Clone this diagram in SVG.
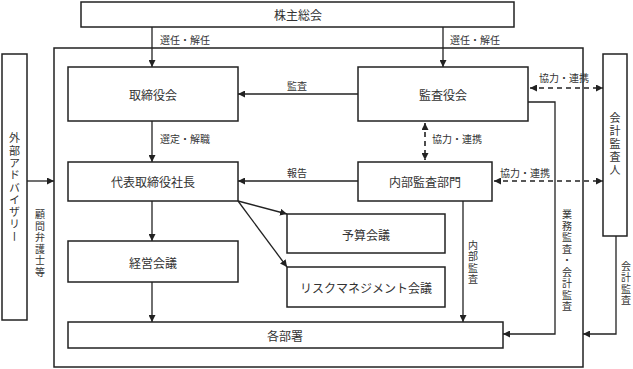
<svg xmlns="http://www.w3.org/2000/svg" width="633" height="369" viewBox="0 0 633 369">
<style>
.box{fill:#fff;stroke:#222;stroke-width:1.5}
.ln{fill:none;stroke:#222;stroke-width:1.3}
.dash{fill:none;stroke:#222;stroke-width:1.6;stroke-dasharray:5 4}
.t{font-family:"Noto Sans CJK JP","Noto Sans CJK SC",sans-serif;font-size:12px;fill:#333;text-anchor:middle;dominant-baseline:central}
.s{font-family:"Noto Sans CJK JP","Noto Sans CJK SC",sans-serif;font-size:10px;fill:#333}
.v{font-family:"Noto Sans CJK JP","Noto Sans CJK SC",sans-serif;font-size:10px;fill:#333;writing-mode:vertical-rl;text-anchor:middle;letter-spacing:1.5px}
</style>
<defs>
<marker id="ah" viewBox="0 0 10 10" refX="10" refY="5" markerWidth="7" markerHeight="7" markerUnits="userSpaceOnUse" orient="auto-start-reverse">
<path d="M0,0 L10,5 L0,10 z" fill="#222"/>
</marker>
</defs>
<rect x="0" y="0" width="633" height="369" fill="#fff"/>
<g id="outer"><rect class="box" x="54" y="48" width="529" height="319"/></g>
<g id="kabunushi"><rect class="box" x="81" y="2" width="433" height="25"/><text class="t" x="298" y="14">株主総会</text></g>
<g id="torishimariyakukai"><rect class="box" x="68" y="67" width="170" height="54"/><text class="t" x="153" y="94">取締役会</text></g>
<g id="kansayakukai"><rect class="box" x="358" y="67" width="170" height="54"/><text class="t" x="443" y="94">監査役会</text></g>
<g id="shacho"><rect class="box" x="68" y="162" width="170" height="39"/><text class="t" x="153" y="181">代表取締役社長</text></g>
<g id="naibukansa"><rect class="box" x="358" y="162" width="134" height="39"/><text class="t" x="425" y="181">内部監査部門</text></g>
<g id="yosan"><rect class="box" x="287" y="214" width="158" height="39"/><text class="t" x="366" y="234">予算会議</text></g>
<g id="risk"><rect class="box" x="287" y="267" width="158" height="40"/><text class="t" x="366" y="287">リスクマネジメント会議</text></g>
<g id="keiei"><rect class="box" x="68" y="241" width="170" height="41"/><text class="t" x="153" y="262">経営会議</text></g>
<g id="kakubusho"><rect class="box" x="68" y="322" width="435" height="26"/><text class="t" x="285" y="335">各部署</text></g>
<g id="gaibu"><rect class="box" x="2" y="54" width="25" height="266"/><text class="v" x="14.5" y="188" style="font-size:11px;letter-spacing:1.3px">外部アドバイザリー</text></g>
<g id="kaikeikansanin"><rect class="box" x="603" y="54" width="24" height="182"/><text class="v" x="615" y="145" style="font-size:11px;letter-spacing:2px">会計監査人</text></g>
<g id="connectors">
<path class="ln" d="M152,27 V67" marker-end="url(#ah)"/>
<path class="ln" d="M443,27 V67" marker-end="url(#ah)"/>
<path class="ln" d="M358,94 H238" marker-end="url(#ah)"/>
<path class="ln" d="M152,121 V162" marker-end="url(#ah)"/>
<path class="ln" d="M358,181 H238" marker-end="url(#ah)"/>
<path class="dash" d="M425,123 V160" marker-start="url(#ah)" marker-end="url(#ah)"/>
<path class="dash" d="M530,88 H603" marker-start="url(#ah)" marker-end="url(#ah)"/>
<path class="dash" d="M494,181 H603" marker-start="url(#ah)" marker-end="url(#ah)"/>
<path class="ln" d="M27,181 H54" marker-end="url(#ah)"/>
<path class="ln" d="M238,201 L287,214" marker-end="url(#ah)"/>
<path class="ln" d="M238,201 L287,267" marker-end="url(#ah)"/>
<path class="ln" d="M152,201 V241" marker-end="url(#ah)"/>
<path class="ln" d="M152,282 V322" marker-end="url(#ah)"/>
<path class="ln" d="M463,201 V322" marker-end="url(#ah)"/>
<path class="ln" d="M528,102 H555 V334 H503" marker-end="url(#ah)"/>
<path class="ln" d="M616,236 V334 H583" marker-end="url(#ah)"/>
<text class="s" x="160" y="44">選任・解任</text>
<text class="s" x="450" y="44">選任・解任</text>
<text class="s" x="287" y="90">監査</text>
<text class="s" x="160" y="143">選定・解職</text>
<text class="s" x="287" y="177">報告</text>
<text class="s" x="432" y="143">協力・連携</text>
<text class="s" x="539" y="82">協力・連携</text>
<text class="s" x="500" y="177">協力・連携</text>
<text class="v" x="40" y="244">顧問弁護士等</text>
<text class="v" x="473" y="263">内部監査</text>
<text class="v" x="567" y="261">業務監査・会計監査</text>
<text class="v" x="626" y="284">会計監査</text>
</g>
</svg>
